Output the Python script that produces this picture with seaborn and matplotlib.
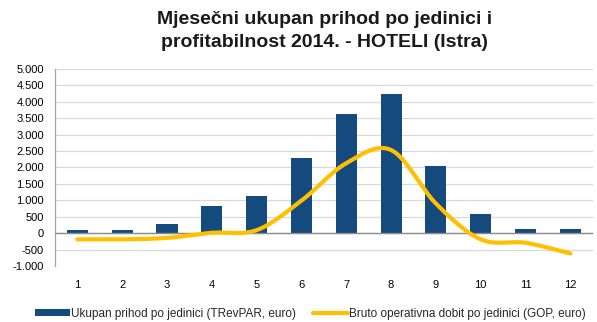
import numpy as np
import pandas as pd
import seaborn as sns
import matplotlib
matplotlib.use("Agg")
import matplotlib.pyplot as plt
from matplotlib.patches import Patch
from matplotlib.lines import Line2D

# Monthly figures for Istrian hotels, 2014 (euro per unit)
months = ["1", "2", "3", "4", "5", "6", "7", "8", "9", "10", "11", "12"]
trevpar = [110, 110, 290, 830, 1145, 2300, 3640, 4250, 2030, 590, 140, 140]
gop = [-190, -190, -145, 10, 90, 990, 2130, 2530, 900, -190, -295, -620]

yticks = [-1000, -500, 0, 500, 1000, 1500, 2000, 2500, 3000, 3500, 4000, 4500, 5000]
ytick_labels = ["-1.000", "-500", "0", "500", "1.000", "1.500", "2.000", "2.500",
                "3.000", "3.500", "4.000", "4.500", "5.000"]

title = "Mjesečni ukupan prihod po jedinici i\nprofitabilnost 2014. - HOTELI (Istra)"
label_bar = "Ukupan prihod po jedinici (TRevPAR, euro)"
label_line = "Bruto operativna dobit po jedinici (GOP, euro)"

BAR_COLOR = "#154A7E"
LINE_COLOR = "#FFC000"

sns.set_theme(style="white")
plt.rcParams["font.family"] = ["Liberation Sans", "DejaVu Sans"]

df = pd.DataFrame({"month": months, "trevpar": trevpar, "gop": gop})

fig = plt.figure(figsize=(5.97, 3.22), dpi=100)
ax = fig.add_axes([0.092, 0.174, 0.901, 0.612])

for y in yticks:
    ax.axhline(y, color="#D9D9D9", lw=0.9, zorder=0)

sns.barplot(data=df, x="month", y="trevpar", order=months, color=BAR_COLOR,
            width=0.47, saturation=1, linewidth=0, ax=ax, zorder=2)

ax.axhline(0, color="#8C8C8C", lw=1.0, zorder=3)

# Smoothed GOP curve: cubic Bezier segments through each monthly point
xs = np.arange(len(gop), dtype=float)
ys = np.asarray(gop, dtype=float)
px = np.concatenate([[xs[0]], xs, [xs[-1]]])
py = np.concatenate([[ys[0]], ys, [ys[-1]]])
t = np.linspace(0, 1, 30)
cx, cy = [], []
for i in range(len(xs) - 1):
    p0 = np.array([xs[i], ys[i]])
    p3 = np.array([xs[i + 1], ys[i + 1]])
    p1 = p0 + (np.array([px[i + 2], py[i + 2]]) - np.array([px[i], py[i]])) / 6
    p2 = p3 - (np.array([px[i + 3], py[i + 3]]) - np.array([px[i + 1], py[i + 1]])) / 6
    b = ((1 - t) ** 3)[:, None] * p0 + (3 * (1 - t) ** 2 * t)[:, None] * p1 \
        + (3 * (1 - t) * t ** 2)[:, None] * p2 + (t ** 3)[:, None] * p3
    cx.extend(b[:, 0])
    cy.extend(b[:, 1])
ax.plot(cx, cy, color=LINE_COLOR, lw=3.0, solid_capstyle="round", zorder=4)

ax.set_xlim(-0.5, 11.5)
ax.set_ylim(-1000, 5000)
ax.set_yticks(yticks)
ax.set_yticklabels(ytick_labels)
ax.set_xlabel("")
ax.set_ylabel("")
ax.tick_params(axis="both", length=0, labelsize=8, colors="#000000")
ax.tick_params(axis="y", pad=8)
ax.tick_params(axis="x", pad=10)
for s in ["top", "right", "bottom"]:
    ax.spines[s].set_visible(False)
ax.spines["left"].set_color("#A6A6A6")
ax.spines["left"].set_linewidth(0.9)

fig.text(0.543, 0.965, title, ha="center", va="top", fontsize=14, fontweight="bold",
         color="#1A1A1A", linespacing=1.45)

handles = [Patch(facecolor=BAR_COLOR, edgecolor="none"),
           Line2D([0], [0], color=LINE_COLOR, lw=3.0, solid_capstyle="round")]
fig.legend(handles, [label_bar, label_line], loc="center", bbox_to_anchor=(0.52, 0.025),
           ncol=2, frameon=False, fontsize=8.5, handlelength=3.0, handleheight=0.55,
           handletextpad=0.1, columnspacing=1.4, borderaxespad=0)

fig.savefig("out.png", dpi=100)
